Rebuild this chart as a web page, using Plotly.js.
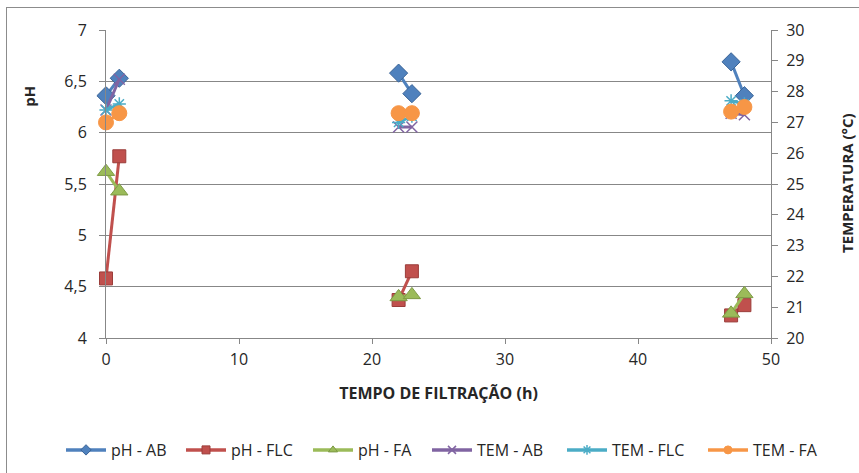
<!DOCTYPE html>
<html>
<head>
<meta charset="utf-8">
<script src="https://cdn.plot.ly/plotly-3.0.1.min.js"></script>
<style>
html,body{margin:0;padding:0;background:#fff;}
#wrap{position:relative;width:859px;height:473px;overflow:hidden;}
#chart{position:absolute;left:0;top:0;width:859px;height:473px;}
#frame{position:absolute;left:6px;top:7px;width:870px;height:480px;border:1px solid #8c8c8c;pointer-events:none;}
</style>
</head>
<body>
<div id="wrap"><div id="chart"></div><div id="frame"></div></div>
<script>
// Filtration time (h)
const time = [0, 1, 22, 23, 47, 48];
// pH series
const phAB  = [6.36, 6.53, 6.58, 6.38, 6.69, 6.36];
const phFLC = [4.58, 5.77, 4.37, 4.65, 4.22, 4.32];
const phFA  = [5.62, 5.43, 4.40, 4.42, 4.24, 4.43];
// Temperature series (°C)
const temAB  = [27.4, 28.4, 26.85, 26.85, 27.3, 27.25];
const temFLC = [27.4, 27.6, 27.0, 27.2, 27.7, 27.6];
const temFA  = [27.0, 27.3, 27.3, 27.3, 27.35, 27.5];

const seriesNames = ['pH - AB','pH - FLC','pH - FA','TEM - AB','TEM - FLC','TEM - FA'];
const xTickVals = [0, 10, 20, 30, 40, 50];

const FONT = '"Open Sans", "Noto Sans", sans-serif';
const TXT = '#262626';
const AX = '#878787';

// insert gaps between measurement pairs
function gapped(arr){
  const out = [];
  arr.forEach((v,i)=>{ out.push(v); if(i%2===1 && i<arr.length-1) out.push(null); });
  return out;
}
const xg = gapped(time);

const styles = [
  {y:phAB,  axis:'y',  color:'#4F81BD', sym:'diamond',       size:14, lsize:8, edge:'#3A6497'},
  {y:phFLC, axis:'y',  color:'#C0504D', sym:'square',        size:13, lsize:8, edge:'#9B3D3A'},
  {y:phFA,  axis:'y',  color:'#9BBB59', sym:'triangle-up',   size:15, lsize:8, edge:'#7D9A45'},
  {y:temAB, axis:'y2', color:'#8064A2', sym:'x-thin-open',   size:11, lsize:8, open:true},
  {y:temFLC,axis:'y2', color:'#4BACC6', sym:'asterisk-open', size:11, lsize:8, open:true},
  {y:temFA, axis:'y2', color:'#F79646', sym:'circle',        size:15, lsize:8, edge:'#F79646'}
];

const data = [];
styles.forEach((s,i)=>{
  data.push({
    type:'scatter', mode:'lines+markers', name:seriesNames[i], showlegend:false,
    x:xg, y:gapped(s.y), yaxis:s.axis, connectgaps:false,
    line:{color:s.color, width:3},
    marker:{symbol:s.sym, size:s.size, color:s.color,
      line:{color:s.open ? s.color : s.edge, width:s.open ? 1.5 : 1}},
    cliponaxis:false
  });
});
// legend entries (one legend per entry to match spacing)
const legendX = [61, 181, 308, 427, 562, 703];
const legendDefs = {};
styles.forEach((s,i)=>{
  const lg = i===0 ? 'legend' : 'legend'+(i+1);
  data.push({
    type:'scatter', mode:'lines+markers', name:seriesNames[i], legend:lg, showlegend:true,
    x:[null], y:[null], yaxis:s.axis,
    line:{color:s.color, width:3.5},
    marker:{symbol:s.sym, size:s.lsize, color:s.color,
      line:{color:s.open ? s.color : s.edge, width:s.open ? 1.5 : 1}}
  });
  legendDefs[lg] = {x:legendX[i]/859, xref:'container', xanchor:'left',
    y:23/473, yref:'container', yanchor:'middle', orientation:'h',
    itemwidth:40, bgcolor:'rgba(0,0,0,0)', borderwidth:0,
    font:{family:FONT, size:16, color:TXT}};
});

const layout = Object.assign({
  width:859, height:473,
  margin:{l:106, r:88, t:30, b:135},
  paper_bgcolor:'rgba(0,0,0,0)', plot_bgcolor:'#fff',
  separators:', ',
  font:{family:FONT, size:16, color:TXT},
  showlegend:true,
  xaxis:{range:[0,50], tickvals:xTickVals, ticks:'outside', ticklen:5, tickcolor:AX,
    showline:true, linecolor:AX, linewidth:1, showgrid:false, zeroline:false,
    tickfont:{size:16}, ticklabelstandoff:2,
    title:{text:'<b>TEMPO DE FILTRAÇÃO (h)</b>', font:{size:16}, standoff:18}},
  yaxis:{range:[4,7], dtick:0.5, ticks:'outside', ticklen:6, tickcolor:AX,
    showline:true, linecolor:AX, showgrid:true, gridcolor:AX, gridwidth:1,
    zeroline:false, tickfont:{size:16}, tickformat:'.1~f', ticklabelstandoff:9},
  yaxis2:{range:[20,30], dtick:1, overlaying:'y', side:'right', ticks:'outside', ticklen:6,
    tickcolor:AX, showline:true, linecolor:AX, showgrid:false, zeroline:false,
    tickfont:{size:16}, ticklabelstandoff:5},
  annotations:[
    {text:'<b>pH</b>', textangle:-90, xref:'paper', yref:'paper', x:-0.115, y:0.785,
      xanchor:'center', yanchor:'middle', showarrow:false, font:{size:15}},
    {text:'<b>TEMPERATURA (°C)</b>', textangle:-90, xref:'paper', yref:'paper', x:1.115, y:0.505,
      xanchor:'center', yanchor:'middle', showarrow:false, font:{size:15}}
  ]
}, legendDefs);

Plotly.newPlot('chart', data, layout, {displayModeBar:false, staticPlot:true});
</script>
</body>
</html>
